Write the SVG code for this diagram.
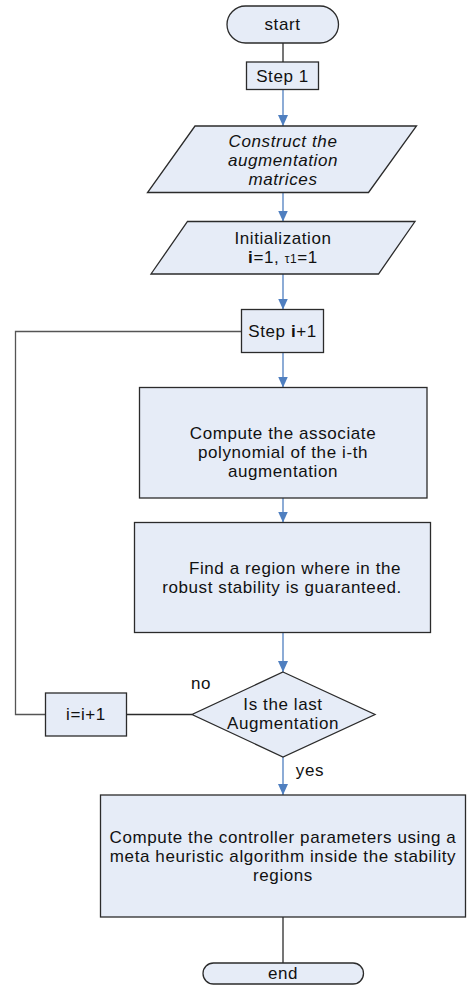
<svg xmlns="http://www.w3.org/2000/svg" width="467" height="986" viewBox="0 0 467 986">
  <style>
    .shape { fill: #E6ECF7; stroke: #2b2b2b; stroke-width: 1.3; }
    .lbl { font-family: "Liberation Sans", Arial, sans-serif; font-size: 17px; letter-spacing: 0.6px; fill: #111; text-anchor: middle; }
    .it { font-style: italic; }
    .flow { fill: none; stroke: #4F7FC0; stroke-width: 1.3; }
    .plain { fill: none; stroke: #2b2b2b; stroke-width: 1.3; }
  </style>
  <defs>
    <marker id="arrow" markerWidth="12" markerHeight="10" refX="11" refY="5" orient="auto" markerUnits="userSpaceOnUse">
      <path d="M0,0 L11,5 L0,10 Z" fill="#4F7FC0"/>
    </marker>
  </defs>
  <rect width="467" height="986" fill="#ffffff"/>

  <g id="connectors">
    <line class="plain" x1="283" y1="43" x2="283" y2="62"/>
    <line class="flow" x1="283" y1="89" x2="283" y2="126" marker-end="url(#arrow)"/>
    <line class="flow" x1="283" y1="192.5" x2="283" y2="221.5" marker-end="url(#arrow)"/>
    <line class="flow" x1="283" y1="274" x2="283" y2="309.5" marker-end="url(#arrow)"/>
    <line class="flow" x1="283" y1="352.5" x2="283" y2="387.5" marker-end="url(#arrow)"/>
    <line class="flow" x1="283" y1="498" x2="283" y2="522.5" marker-end="url(#arrow)"/>
    <line class="flow" x1="283" y1="632.5" x2="283" y2="672" marker-end="url(#arrow)"/>
    <line class="flow" x1="283" y1="757" x2="283" y2="795" marker-end="url(#arrow)"/>
    <line class="plain" x1="283" y1="917" x2="283" y2="963"/>
    <line class="plain" x1="192" y1="714.5" x2="126.5" y2="714.5"/>
    <polyline class="plain" points="45.5,714.5 15.5,714.5 15.5,331.5 241.5,331.5" style="stroke:#555"/>
    <text class="lbl" x="201" y="689">no</text>
    <text class="lbl" x="310" y="776">yes</text>
  </g>

  <g id="start">
    <rect class="shape" x="227" y="6" width="111.5" height="37" rx="18.5"/>
    <text class="lbl" x="282.5" y="30">start</text>
  </g>

  <g id="step1">
    <rect class="shape" x="246.5" y="62" width="72" height="27.5"/>
    <text class="lbl" x="282.5" y="81.5">Step 1</text>
  </g>

  <g id="construct">
    <polygon class="shape" points="195,126 416.5,126 368.5,192.5 147.5,192.5"/>
    <text class="lbl it" x="283" y="147">Construct the</text>
    <text class="lbl it" x="283" y="166">augmentation</text>
    <text class="lbl it" x="283" y="184.5">matrices</text>
  </g>

  <g id="init">
    <polygon class="shape" points="187.5,221.5 415,221.5 378.5,274 151,274"/>
    <text class="lbl" x="283" y="243.5">Initialization</text>
    <text class="lbl" x="283" y="262.5"><tspan font-weight="bold">i</tspan>=1, <tspan font-size="12">τ1</tspan>=1</text>
  </g>

  <g id="step-next">
    <rect class="shape" x="241.5" y="309.5" width="82" height="43"/>
    <text class="lbl" x="282.5" y="336.5">Step <tspan font-weight="bold">i</tspan>+1</text>
  </g>

  <g id="polynomial">
    <rect class="shape" x="139.5" y="387.5" width="287.5" height="110.5"/>
    <text class="lbl" x="283" y="438.5">Compute the associate</text>
    <text class="lbl" x="283" y="457.5">polynomial of the i-th</text>
    <text class="lbl" x="283" y="476.5">augmentation</text>
  </g>

  <g id="region">
    <rect class="shape" x="134.5" y="522.5" width="296" height="110"/>
    <text class="lbl" x="295" y="573.5">Find a region where in the</text>
    <text class="lbl" x="282" y="592.5">robust stability is guaranteed.</text>
  </g>

  <g id="decision">
    <polygon class="shape" points="283,672 375,714.5 283,757 192,714.5"/>
    <text class="lbl" x="283" y="709.5">Is the last</text>
    <text class="lbl" x="283" y="728.5">Augmentation</text>
  </g>

  <g id="increment">
    <rect class="shape" x="45.5" y="693" width="81" height="43"/>
    <text class="lbl" x="86" y="720">i=i+1</text>
  </g>

  <g id="controller">
    <rect class="shape" x="100.5" y="795" width="365" height="122"/>
    <text class="lbl" x="283" y="842.5">Compute the controller parameters using a</text>
    <text class="lbl" x="283" y="861.5">meta heuristic algorithm inside the stability</text>
    <text class="lbl" x="283" y="880.5">regions</text>
  </g>

  <g id="end">
    <rect class="shape" x="203" y="963" width="160.5" height="21" rx="10.5"/>
    <text class="lbl" x="283" y="978.5">end</text>
  </g>
</svg>
